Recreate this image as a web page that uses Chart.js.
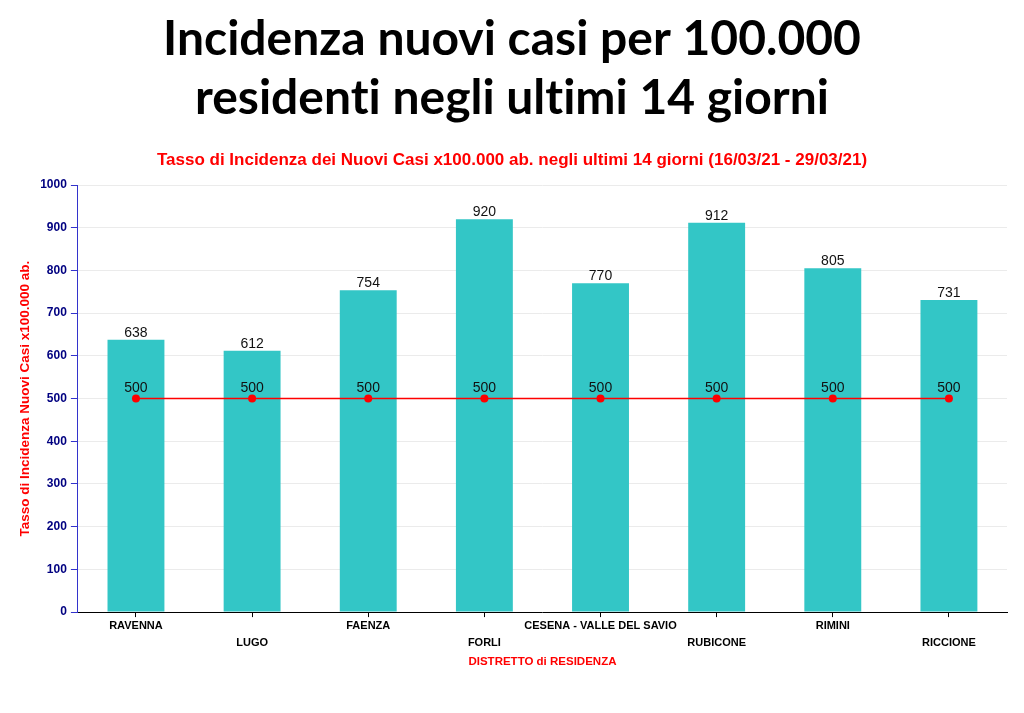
<!DOCTYPE html>
<html>
<head>
<meta charset="utf-8">
<script src="https://cdn.jsdelivr.net/npm/chart.js@4.4.1/dist/chart.umd.min.js"></script>
<style>
html,body{margin:0;padding:0;background:#fff;}
#wrap{position:absolute;left:0;top:0;width:1024px;height:713px;}
</style>
</head>
<body>
<div id="wrap"><canvas id="c" width="1024" height="713"></canvas></div>
<script>
const categories = ['RAVENNA','LUGO','FAENZA','FORLI','CESENA - VALLE DEL SAVIO','RUBICONE','RIMINI','RICCIONE'];
const incidenza = [638, 612, 754, 920, 770, 912, 805, 731];
const soglia = [500, 500, 500, 500, 500, 500, 500, 500];
const yTicks = [0,100,200,300,400,500,600,700,800,900,1000];

const staggered = categories.map((c, i) => i % 2 === 0 ? [c, ''] : ['', c]);

const SANS = "'Liberation Sans', Arial, sans-serif";

const noLigatures = {
  id: 'noLigatures',
  beforeDraw(chart) {
    try { chart.ctx.textRendering = 'optimizeSpeed'; } catch (e) {}
  }
};

const valueLabels = {
  id: 'valueLabels',
  afterDatasetsDraw(chart) {
    const ctx = chart.ctx;
    ctx.save();
    ctx.fillStyle = '#111';
    ctx.font = '14px ' + SANS;
    ctx.textAlign = 'center';
    ctx.textBaseline = 'alphabetic';
    chart.data.datasets.forEach((ds, di) => {
      const meta = chart.getDatasetMeta(di);
      meta.data.forEach((el, i) => {
        const off = ds.type === 'line' ? 7 : 3;
        ctx.fillText(String(ds.data[i]), el.x, el.y - off);
      });
    });
    ctx.restore();
  }
};

new Chart(document.getElementById('c'), {
  type: 'bar',
  data: {
    labels: staggered,
    datasets: [
      {
        type: 'line',
        label: 'Soglia',
        data: soglia,
        borderColor: '#ff0000',
        backgroundColor: '#ff0000',
        borderWidth: 1.5,
        pointRadius: 4,
        pointBackgroundColor: '#ff0000',
        pointBorderWidth: 0,
        tension: 0,
        order: 0
      },
      {
        type: 'bar',
        label: 'Incidenza',
        data: incidenza,
        backgroundColor: '#33c6c6',
        barPercentage: 0.49,
        categoryPercentage: 1.0,
        order: 1
      }
    ]
  },
  options: {
    responsive: false,
    animation: false,
    layout: { padding: { left: 17, right: 17, top: 0, bottom: 44 } },
    plugins: {
      legend: { display: false },
      tooltip: { enabled: false },
      title: {
        display: true,
        text: ['Incidenza nuovi casi per 100.000', 'residenti negli ultimi 14 giorni'],
        color: '#000',
        font: { family: "Lato, 'Open Sans', sans-serif", size: 48, weight: 'bold', lineHeight: 1.23 },
        padding: { top: 10, bottom: 22 }
      },
      subtitle: {
        display: true,
        text: 'Tasso di Incidenza dei Nuovi Casi x100.000 ab. negli ultimi 14 giorni (16/03/21 - 29/03/21)',
        color: '#ff0000',
        font: { family: SANS, size: 17, weight: 'bold' },
        padding: { top: 0, bottom: 14.6 }
      }
    },
    scales: {
      x: {
        offset: true,
        grid: { display: true, drawOnChartArea: false, offset: false, tickLength: 5, tickColor: '#000', color: '#000' },
        border: { display: true, color: '#000', width: 1 },
        ticks: {
          color: '#000',
          autoSkip: false,
          maxRotation: 0,
          minRotation: 0,
          padding: 0,
          font: { family: SANS, size: 11, weight: 'bold', lineHeight: 1.55 }
        },
        title: {
          display: true,
          text: 'DISTRETTO di RESIDENZA',
          color: '#ff0000',
          font: { family: SANS, size: 11.5, weight: 'bold' },
          padding: { top: 4, bottom: 0 }
        }
      },
      y: {
        min: 0,
        max: 1000,
        afterBuildTicks(axis) { axis.ticks = yTicks.map(v => ({ value: v })); },
        grid: { color: '#ebebeb', tickColor: '#3333cc', tickLength: 7, lineWidth: 1 },
        border: { display: true, color: '#3333cc', width: 1 },
        ticks: {
          color: '#000080',
          padding: 4,
          callback: (v) => String(v),
          font: { family: SANS, size: 12, weight: 'bold' }
        },
        title: {
          display: true,
          text: 'Tasso di Incidenza Nuovi Casi x100.000 ab.',
          color: '#ff0000',
          font: { family: SANS, size: 13.5, weight: 'bold' },
          padding: { top: 0, bottom: 3 }
        }
      }
    }
  },
  plugins: [noLigatures, valueLabels]
});
</script>
</body>
</html>
